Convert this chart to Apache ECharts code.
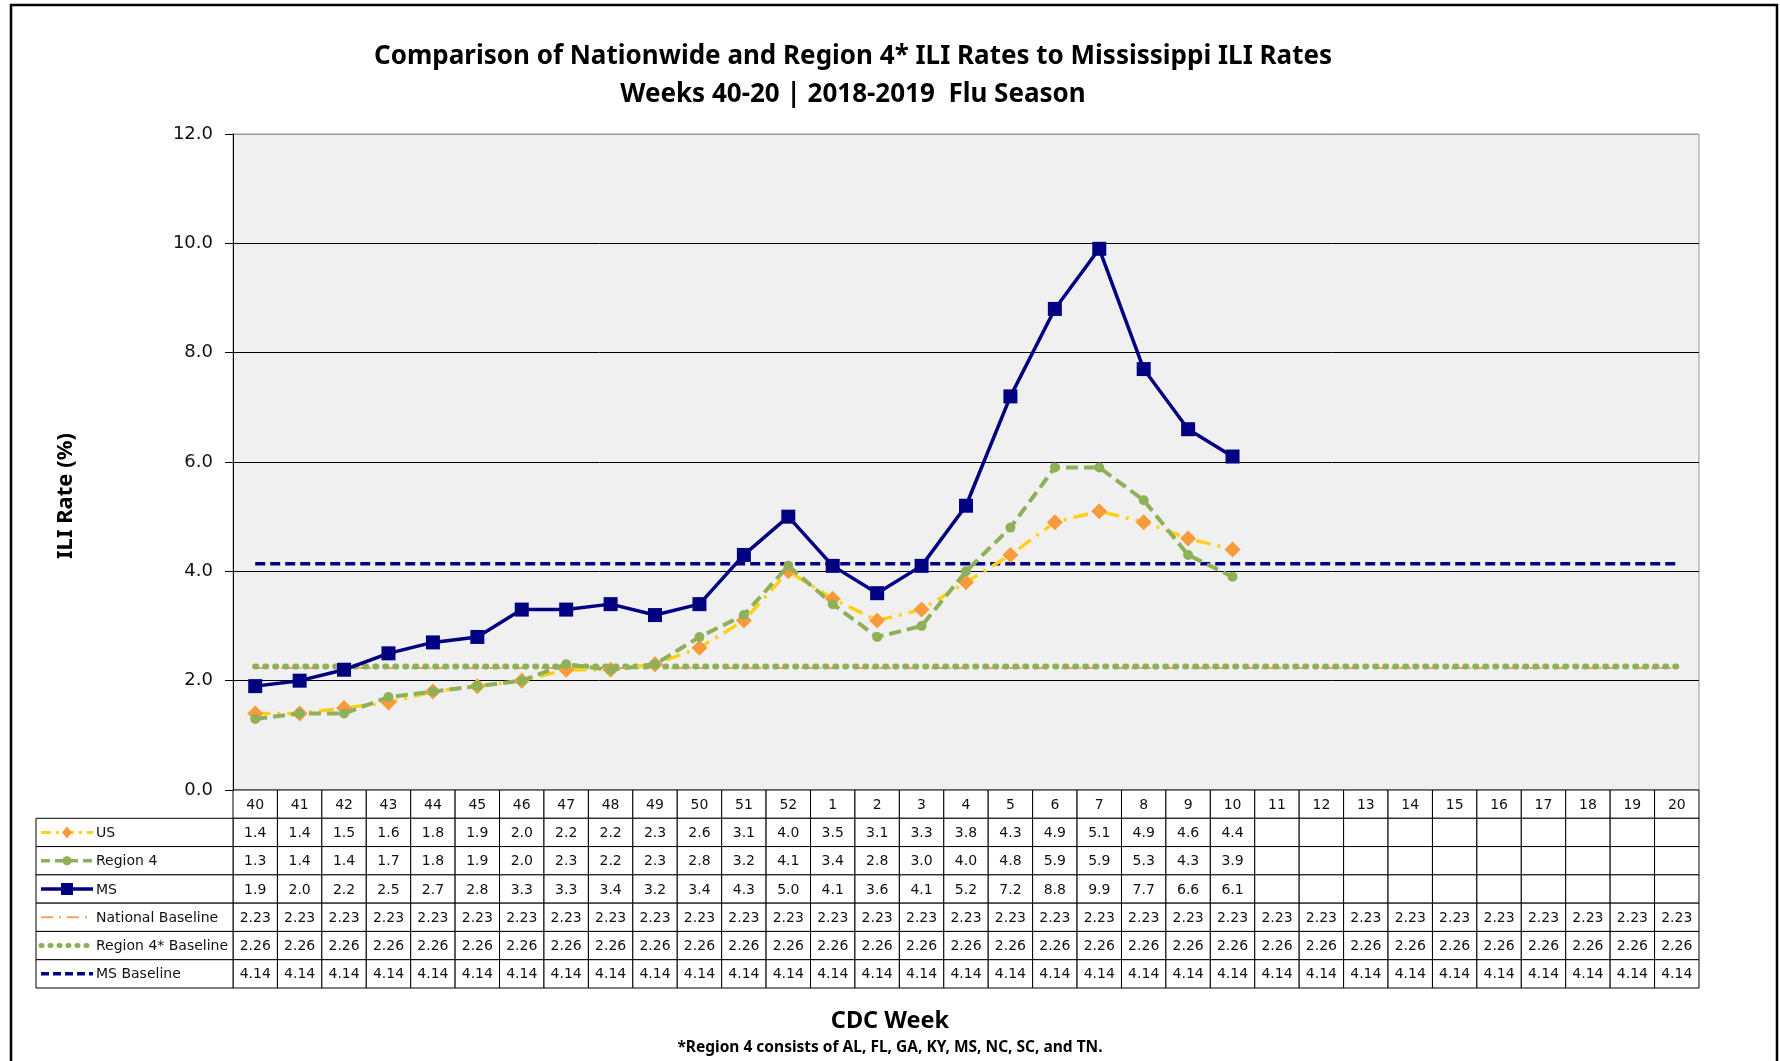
<!DOCTYPE html>
<html><head><meta charset="utf-8">
<script src="https://cdn.jsdelivr.net/npm/echarts@6/dist/echarts.min.js"></script>
<style>html,body{margin:0;padding:0;background:#fff}#c{width:1780px;height:1061px}</style>
</head><body><div id="c"></div>
<script>
// ---------- data ----------
var weeks = ['40','41','42','43','44','45','46','47','48','49','50','51','52','1','2','3','4','5','6','7','8','9','10','11','12','13','14','15','16','17','18','19','20'];
var usValues      = [1.4,1.4,1.5,1.6,1.8,1.9,2.0,2.2,2.2,2.3,2.6,3.1,4.0,3.5,3.1,3.3,3.8,4.3,4.9,5.1,4.9,4.6,4.4];
var region4Values = [1.3,1.4,1.4,1.7,1.8,1.9,2.0,2.3,2.2,2.3,2.8,3.2,4.1,3.4,2.8,3.0,4.0,4.8,5.9,5.9,5.3,4.3,3.9];
var msValues      = [1.9,2.0,2.2,2.5,2.7,2.8,3.3,3.3,3.4,3.2,3.4,4.3,5.0,4.1,3.6,4.1,5.2,7.2,8.8,9.9,7.7,6.6,6.1];
var nationalBaseline = [2.23,2.23,2.23,2.23,2.23,2.23,2.23,2.23,2.23,2.23,2.23,2.23,2.23,2.23,2.23,2.23,2.23,2.23,2.23,2.23,2.23,2.23,2.23,2.23,2.23,2.23,2.23,2.23,2.23,2.23,2.23,2.23,2.23];
var region4Baseline  = [2.26,2.26,2.26,2.26,2.26,2.26,2.26,2.26,2.26,2.26,2.26,2.26,2.26,2.26,2.26,2.26,2.26,2.26,2.26,2.26,2.26,2.26,2.26,2.26,2.26,2.26,2.26,2.26,2.26,2.26,2.26,2.26,2.26];
var msBaseline       = [4.14,4.14,4.14,4.14,4.14,4.14,4.14,4.14,4.14,4.14,4.14,4.14,4.14,4.14,4.14,4.14,4.14,4.14,4.14,4.14,4.14,4.14,4.14,4.14,4.14,4.14,4.14,4.14,4.14,4.14,4.14,4.14,4.14];
var seriesNames = ['US','Region 4','MS','National Baseline','Region 4* Baseline','MS Baseline'];
var yTicks = ['0.0','2.0','4.0','6.0','8.0','10.0','12.0'];
var titleLines = ['Comparison of Nationwide and Region 4* ILI Rates to Mississippi ILI Rates','Weeks 40-20 | 2018-2019  Flu Season'];
var yAxisTitle = 'ILI Rate (%)';
var xAxisTitle = 'CDC Week';
var footnote = '*Region 4 consists of AL, FL, GA, KY, MS, NC, SC, and TN.';

// ---------- styles ----------
var NAVY = '#000080', GREEN = '#8DB059', YELLOW = '#FFD11A', ORANGE = '#F99B3C', NATCOL = '#F4A05A';
var rowValues = [usValues, region4Values, msValues, nationalBaseline, region4Baseline, msBaseline];
var rowDigits = [1,1,1,2,2,2];
var legendKeys = [
  {color: YELLOW, width: 3, dash: [10,5,3,5], sym: 'diamond', symColor: ORANGE},
  {color: GREEN, width: 3.5, dash: [9,5], sym: 'circle', symColor: GREEN},
  {color: NAVY, width: 3.5, dash: null, sym: 'square', symColor: NAVY},
  {color: NATCOL, width: 2, dash: [12,6,2,6], sym: null},
  {color: GREEN, width: 5, dash: [1,8], cap: 'round', sym: null},
  {color: NAVY, width: 3.5, dash: [8,4], sym: null}
];
var FONT = 'DejaVu Sans';
var TITLE_FONT = 'Noto Sans';
var PLOT_LEFT = 233, PLOT_TOP = 134, PLOT_W = 1466, PLOT_H = 656;
var TABLE_H = 198, LEGEND_COL_W = 197;

var cellData = [];
for (var r = 0; r <= 6; r++) for (var c = 0; c < weeks.length; c++) cellData.push([c, r]);
var legendData = [];
for (var k = 1; k <= 6; k++) legendData.push([0, k]);

function cellText(r, c) {
  if (r === 0) return weeks[c];
  var v = rowValues[r-1][c];
  return (v === undefined || v === null) ? '' : v.toFixed(rowDigits[r-1]);
}
function cellRender(params, api) {
  var c = api.value(0), r = api.value(1);
  var p = api.coord([c, r]);
  var s = api.size([1, 1]);
  return {type: 'group', children: [
    {type: 'rect', shape: {x: p[0]-s[0]/2, y: p[1]-s[1]/2, width: s[0], height: s[1]},
     style: {fill: '#fff', stroke: '#000', lineWidth: 1}},
    {type: 'text', style: {text: cellText(r, c), x: p[0], y: p[1]+1, align: 'center', verticalAlign: 'middle',
     fontSize: 14, fontFamily: FONT, fill: '#111'}}
  ]};
}
function legendRender(params, api) {
  var r = api.value(1);
  var p = api.coord([0, r]);
  var s = api.size([1, 1]);
  var right = p[0] - s[0]/2, left = right - LEGEND_COL_W, top = p[1] - s[1]/2, cy = p[1];
  var key = legendKeys[r-1];
  var x0 = left + 5, x1 = left + 57, xm = (x0 + x1) / 2;
  var ch = [
    {type: 'rect', shape: {x: left, y: top, width: LEGEND_COL_W, height: s[1]}, style: {fill: '#fff', stroke: '#000', lineWidth: 1}},
    {type: 'line', shape: {x1: x0, y1: cy, x2: x1, y2: cy},
     style: {stroke: key.color, lineWidth: key.width, lineDash: key.dash, lineCap: key.cap || 'butt'}}
  ];
  if (key.sym === 'diamond') ch.push({type: 'polygon', shape: {points: [[xm, cy-6],[xm+5, cy],[xm, cy+6],[xm-5, cy]]}, style: {fill: key.symColor}});
  if (key.sym === 'circle') ch.push({type: 'circle', shape: {cx: xm, cy: cy, r: 4.5}, style: {fill: key.symColor}});
  if (key.sym === 'square') ch.push({type: 'rect', shape: {x: xm-6, y: cy-6, width: 12, height: 12}, style: {fill: key.symColor}});
  ch.push({type: 'text', style: {text: seriesNames[r-1], x: x1 + 3, y: cy + 1, align: 'left', verticalAlign: 'middle',
     fontSize: 14, fontFamily: FONT, fill: '#111'}});
  return {type: 'group', children: ch};
}

var chart = echarts.init(document.getElementById('c'), null, {renderer: 'canvas'});
var option = {
  animation: false,
  backgroundColor: '#fff',
  grid: [
    {left: PLOT_LEFT, top: PLOT_TOP, width: PLOT_W, height: PLOT_H, show: true, backgroundColor: '#F0F0F0', borderColor: '#999', borderWidth: 1},
    {left: PLOT_LEFT, top: PLOT_TOP + PLOT_H, width: PLOT_W, height: TABLE_H}
  ],
  xAxis: [
    {type: 'category', gridIndex: 0, data: weeks, show: false, boundaryGap: true},
    {type: 'category', gridIndex: 1, data: weeks, show: false, boundaryGap: true}
  ],
  yAxis: [
    {type: 'value', gridIndex: 0, min: 0, max: 12, interval: 2,
     axisLine: {show: true, lineStyle: {color: '#000', width: 1}},
     axisTick: {show: true, length: 8, lineStyle: {color: '#000'}},
     axisLabel: {margin: 20, fontSize: 18, fontFamily: FONT, color: '#111', formatter: function (v) { return yTicks[Math.round(v/2)]; }},
     splitLine: {show: true, lineStyle: {color: ['#000','#000','#000','#000','#000','#000','#999'], width: 1}}},
    {type: 'category', gridIndex: 1, data: ['Week'].concat(seriesNames), inverse: true, show: false}
  ],
  series: [
    {name: seriesNames[3], type: 'line', data: nationalBaseline, symbol: 'none', z: 2,
     lineStyle: {color: NATCOL, width: 2, type: [12,6,2,6]}},
    {name: seriesNames[4], type: 'line', data: region4Baseline, symbol: 'none', z: 3,
     lineStyle: {color: GREEN, width: 6, type: [1,9], cap: 'round'}},
    {name: seriesNames[5], type: 'line', data: msBaseline, symbol: 'none', z: 3,
     lineStyle: {color: NAVY, width: 3.5, type: [10,5]}},
    {name: seriesNames[0], type: 'line', data: usValues, symbol: 'diamond', symbolSize: 16, z: 4,
     lineStyle: {color: YELLOW, width: 3.5, type: [15,7,3,7]}, itemStyle: {color: ORANGE}},
    {name: seriesNames[1], type: 'line', data: region4Values, symbol: 'circle', symbolSize: 10, z: 5,
     lineStyle: {color: GREEN, width: 4, type: [12,6]}, itemStyle: {color: GREEN}},
    {name: seriesNames[2], type: 'line', data: msValues, symbol: 'rect', symbolSize: 14, z: 6,
     lineStyle: {color: NAVY, width: 3.5}, itemStyle: {color: NAVY}},
    {type: 'custom', xAxisIndex: 1, yAxisIndex: 1, data: cellData, renderItem: cellRender, z: 2, silent: true},
    {type: 'custom', xAxisIndex: 1, yAxisIndex: 1, data: legendData, renderItem: legendRender, z: 2, silent: true, clip: false}
  ],
  graphic: [
    {type: 'rect', shape: {x: 11, y: 5, width: 1766, height: 1080}, style: {fill: null, stroke: '#000', lineWidth: 2.5}, z: 0},
    {type: 'text', x: 853, y: 57, style: {text: titleLines[0], align: 'center', verticalAlign: 'middle', fontSize: 26, fontWeight: 'bold', fontFamily: TITLE_FONT, fill: '#000'}},
    {type: 'text', x: 853, y: 95, style: {text: titleLines[1], align: 'center', verticalAlign: 'middle', fontSize: 26, fontWeight: 'bold', fontFamily: TITLE_FONT, fill: '#000'}},
    {type: 'text', x: 66, y: 496, rotation: Math.PI/2, style: {text: yAxisTitle, align: 'center', verticalAlign: 'middle', fontSize: 22, fontWeight: 'bold', fontFamily: TITLE_FONT, fill: '#000'}},
    {type: 'text', x: 890, y: 1021, style: {text: xAxisTitle, align: 'center', verticalAlign: 'middle', fontSize: 23.5, fontWeight: 'bold', fontFamily: TITLE_FONT, fill: '#000'}},
    {type: 'text', x: 890, y: 1048, style: {text: footnote, align: 'center', verticalAlign: 'middle', fontSize: 15.5, fontWeight: 'bold', fontFamily: TITLE_FONT, fill: '#000'}}
  ]
};
chart.setOption(option);
</script></body></html>
